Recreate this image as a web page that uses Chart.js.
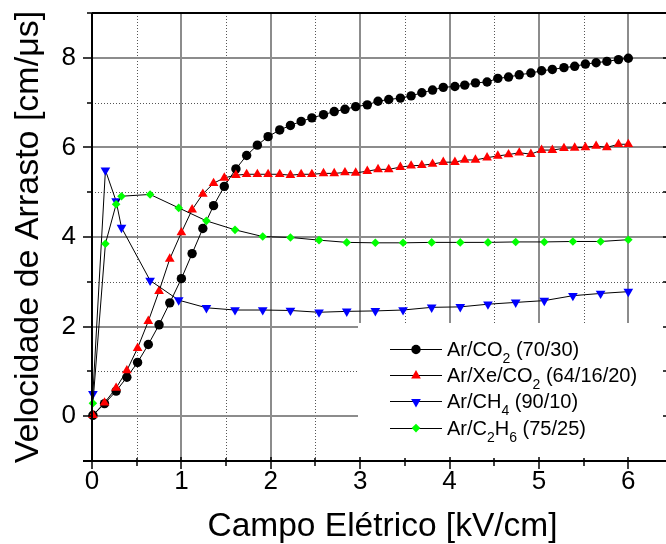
<!DOCTYPE html>
<html><head><meta charset="utf-8">
<script src="https://cdn.jsdelivr.net/npm/chart.js@4.4.0/dist/chart.umd.min.js"></script>
<style>html,body{margin:0;padding:0;background:#fff;overflow:hidden}#wrap{width:666px;height:544px;position:relative;overflow:hidden}canvas{display:block}</style>
</head><body><div id="wrap"><canvas id="c" width="673" height="544"></canvas></div>
<script>
// ---------- data ----------
const xCO2 = [0.01,0.14,0.27,0.39,0.51,0.63,0.75,0.87,1.00,1.12,1.24,1.36,1.48,1.61,1.73,1.85,1.97,2.10,2.22,2.34,2.46,2.59,2.71,2.83,2.95,
              3.08,3.20,3.32,3.45,3.57,3.69,3.81,3.93,4.06,4.17,4.29,4.42,4.54,4.66,4.78,4.91,5.03,5.15,5.28,5.40,5.52,5.64,5.76,5.89,6.00];
const yArCO2 = [0.02,0.28,0.56,0.87,1.20,1.60,2.04,2.53,3.07,3.63,4.19,4.70,5.13,5.52,5.82,6.05,6.24,6.39,6.49,6.58,6.66,6.73,6.80,6.85,6.91,
                6.95,7.03,7.07,7.10,7.15,7.22,7.28,7.34,7.36,7.39,7.44,7.46,7.54,7.57,7.62,7.66,7.71,7.74,7.78,7.81,7.86,7.89,7.92,7.96,7.99];
const yArXeCO2 = [0.02,0.30,0.63,1.02,1.52,2.12,2.79,3.51,4.10,4.61,4.96,5.20,5.32,5.38,5.40,5.40,5.40,5.40,5.38,5.40,5.40,5.42,5.42,5.44,5.43,
                  5.47,5.51,5.51,5.56,5.59,5.60,5.63,5.67,5.67,5.72,5.72,5.77,5.81,5.84,5.88,5.85,5.94,5.94,5.98,5.99,6.00,6.03,6.00,6.07,6.07];
const xHC = [0.01,0.15,0.27,0.33,0.65,0.97,1.28,1.60,1.91,2.22,2.54,2.85,3.17,3.48,3.80,4.12,4.43,4.74,5.06,5.38,5.69,6.00];
const yArCH4 = [0.50,5.49,4.80,4.21,3.03,2.59,2.42,2.37,2.37,2.36,2.32,2.34,2.35,2.37,2.43,2.44,2.50,2.54,2.58,2.69,2.74,2.78];
const yArC2H6 = [0.29,3.85,4.73,4.91,4.95,4.65,4.36,4.16,4.01,3.99,3.93,3.88,3.87,3.87,3.88,3.88,3.88,3.89,3.89,3.90,3.90,3.94];
const seriesLabels = ['Ar/CO_2 (70/30)','Ar/Xe/CO_2 (64/16/20)','Ar/CH_4 (90/10)','Ar/C_2H_6 (75/25)'];
const xTickValues = [0,1,2,3,4,5,6];
const yTickValues = [0,2,4,6,8];
const xMinorValues = [0.5,1.5,2.5,3.5,4.5,5.5];
const yMinorValues = [1,3,5,7];
const xTitle = 'Campo Elétrico [kV/cm]';
const yTitle = 'Velocidade de Arrasto [cm/μs]';

// ---------- styles ----------
const FONT = '"Liberation Sans", Arial, sans-serif';
const styles = [
  {color:'#000000', pointStyle:'circle', radius:4.7, rotation:0},
  {color:'#ff0000', pointStyle:'triangle', radius:5.6, rotation:0},
  {color:'#0000ff', pointStyle:'triangle', radius:5.6, rotation:180},
  {color:'#00ff00', pointStyle:'rectRot', radius:4.3, rotation:0}
];
const seriesData = [
  xCO2.map((x,i)=>({x, y:yArCO2[i]})),
  xCO2.map((x,i)=>({x, y:yArXeCO2[i]})),
  xHC.map((x,i)=>({x, y:yArCH4[i]})),
  xHC.map((x,i)=>({x, y:yArC2H6[i]}))
];
const datasets = seriesData.map((d,i)=>({
  label: seriesLabels[i].replace(/_/g,''),
  data: d,
  showLine: true,
  borderColor: '#000',
  borderWidth: 1,
  tension: 0,
  pointStyle: styles[i].pointStyle,
  pointRotation: styles[i].rotation,
  pointRadius: styles[i].radius,
  pointBackgroundColor: styles[i].color,
  pointBorderColor: styles[i].color,
  pointBorderWidth: 0,
  clip: false,
  order: 4 - i
}));

function drawMarker(ctx, st, x, y) {
  ctx.beginPath();
  const r = st.radius;
  if (st.pointStyle === 'circle') {
    ctx.arc(x, y, r, 0, Math.PI*2);
  } else if (st.pointStyle === 'triangle') {
    const s = st.rotation ? -1 : 1;
    ctx.moveTo(x, y - s*r);
    ctx.lineTo(x + r*Math.sin(2*Math.PI/3), y + s*r/2);
    ctx.lineTo(x - r*Math.sin(2*Math.PI/3), y + s*r/2);
    ctx.closePath();
  } else {
    ctx.moveTo(x, y - r); ctx.lineTo(x + r, y); ctx.lineTo(x, y + r); ctx.lineTo(x - r, y); ctx.closePath();
  }
  ctx.fillStyle = st.color;
  ctx.fill();
}

const gridPlugin = {
  id: 'gridPlugin',
  beforeDatasetsDraw(chart) {
    const {ctx, chartArea: a, scales: {x, y}} = chart;
    ctx.save();
    ctx.beginPath(); ctx.rect(a.left, a.top, a.right - a.left, a.bottom - a.top); ctx.clip();
    ctx.strokeStyle = '#555'; ctx.lineWidth = 1; ctx.setLineDash([1,2]);
    xMinorValues.forEach(v => { const p = Math.round(x.getPixelForValue(v)) + 0.5; ctx.beginPath(); ctx.moveTo(p, a.top); ctx.lineTo(p, a.bottom); ctx.stroke(); });
    yMinorValues.forEach(v => { const p = Math.round(y.getPixelForValue(v)) + 0.5; ctx.beginPath(); ctx.moveTo(a.left, p); ctx.lineTo(a.right, p); ctx.stroke(); });
    ctx.setLineDash([]); ctx.strokeStyle = '#8c8c8c'; ctx.lineWidth = 2;
    xTickValues.forEach(v => { if (v === 0) return; const p = Math.round(x.getPixelForValue(v)); ctx.beginPath(); ctx.moveTo(p, a.top); ctx.lineTo(p, a.bottom); ctx.stroke(); });
    yTickValues.forEach(v => { const p = Math.round(y.getPixelForValue(v)); ctx.beginPath(); ctx.moveTo(a.left, p); ctx.lineTo(a.right, p); ctx.stroke(); });
    ctx.restore();
  },
  afterDatasetsDraw(chart) {
    const {ctx, chartArea: a} = chart;
    ctx.save();
    const lx = 358, ly = 323;
    ctx.fillStyle = '#fff';
    ctx.fillRect(lx, ly, a.right - lx, a.bottom - ly);
    seriesLabels.forEach((lab, i) => {
      const cy = 349 + i * 26.2;
      ctx.strokeStyle = '#000'; ctx.lineWidth = 1;
      ctx.beginPath(); ctx.moveTo(390, Math.round(cy) + 0.5); ctx.lineTo(442, Math.round(cy) + 0.5); ctx.stroke();
      drawMarker(ctx, styles[i], 416, cy + 0.5);
      let tx = 447;
      const base = cy + 7;
      ctx.fillStyle = '#000'; ctx.textBaseline = 'alphabetic'; ctx.textAlign = 'left';
      lab.split(/(_\d)/).forEach(p => {
        if (!p) return;
        if (p[0] === '_') {
          ctx.font = '14px ' + FONT;
          ctx.fillText(p.slice(1), tx, base + 7);
          tx += ctx.measureText(p.slice(1)).width;
        } else {
          ctx.font = '20px ' + FONT;
          ctx.fillText(p, tx, base);
          tx += ctx.measureText(p).width;
        }
      });
    });
    ctx.restore();
  },
  afterDraw(chart) {
    const {ctx, chartArea: a, scales: {x, y}} = chart;
    ctx.save();
    ctx.strokeStyle = '#000'; ctx.lineWidth = 2;
    ctx.beginPath();
    ctx.moveTo(a.left, a.top); ctx.lineTo(a.right, a.top); ctx.lineTo(a.right, a.bottom);
    ctx.moveTo(a.left, a.top); ctx.lineTo(a.left, a.bottom);
    ctx.moveTo(a.left - 9, a.bottom); ctx.lineTo(a.right, a.bottom);
    ctx.stroke();
    ctx.lineWidth = 1.5;
    ctx.beginPath();
    yTickValues.forEach(v => { const p = Math.round(y.getPixelForValue(v)); ctx.moveTo(a.left - 9, p); ctx.lineTo(a.left, p); ctx.moveTo(a.right - 10, p); ctx.lineTo(a.right, p); });
    yMinorValues.concat([9]).forEach(v => { const p = Math.round(y.getPixelForValue(v)); ctx.moveTo(a.left - 5, p); ctx.lineTo(a.left, p); ctx.moveTo(a.right - 10, p); ctx.lineTo(a.right, p); });
    xTickValues.forEach(v => { const p = Math.round(x.getPixelForValue(v)); ctx.moveTo(p, a.bottom - 4); ctx.lineTo(p, a.bottom + 8); });
    xMinorValues.forEach(v => { const p = Math.round(x.getPixelForValue(v)); ctx.moveTo(p, a.bottom - 3); ctx.lineTo(p, a.bottom + 5); });
    ctx.stroke();
    ctx.restore();
  }
};

Chart.defaults.font.family = FONT;
Chart.defaults.color = '#000';

new Chart(document.getElementById('c'), {
  type: 'scatter',
  data: { datasets },
  options: {
    responsive: false,
    animation: false,
    events: [],
    devicePixelRatio: 1,
    layout: { autoPadding: false, padding: { top: 13, left: 0, right: 0, bottom: 0 } },
    plugins: { legend: { display: false }, tooltip: { enabled: false } },
    scales: {
      x: {
        type: 'linear', position: 'bottom', min: 0, max: 6.5,
        afterBuildTicks: s => { s.ticks = xTickValues.map(v => ({ value: v })); },
        afterFit: s => { s.height = 83; s.paddingLeft = 0; s.paddingRight = 0; },
        grid: { display: false, drawTicks: false },
        border: { display: false },
        ticks: { font: { size: 26, lineHeight: 1 }, padding: 8, maxRotation: 0, autoSkip: false, color: '#000', callback: v => String(v) },
        title: { display: true, text: xTitle, font: { size: 33.5, lineHeight: 1 }, padding: { top: 0, bottom: 0 }, color: '#000' }
      },
      y: {
        type: 'linear', position: 'left', min: -1, max: 9,
        afterBuildTicks: s => { s.ticks = yTickValues.map(v => ({ value: v })); },
        afterFit: s => { s.width = 92; s.paddingTop = 0; s.paddingBottom = 0; },
        grid: { display: false, drawTicks: false },
        border: { display: false },
        ticks: { font: { size: 26, lineHeight: 1 }, padding: 16, color: '#000', callback: v => String(v) },
        title: { display: true, text: yTitle, font: { size: 34, lineHeight: 1 }, padding: { top: 12, bottom: 0 }, color: '#000' }
      }
    }
  },
  plugins: [gridPlugin]
});
</script>
</body></html>
